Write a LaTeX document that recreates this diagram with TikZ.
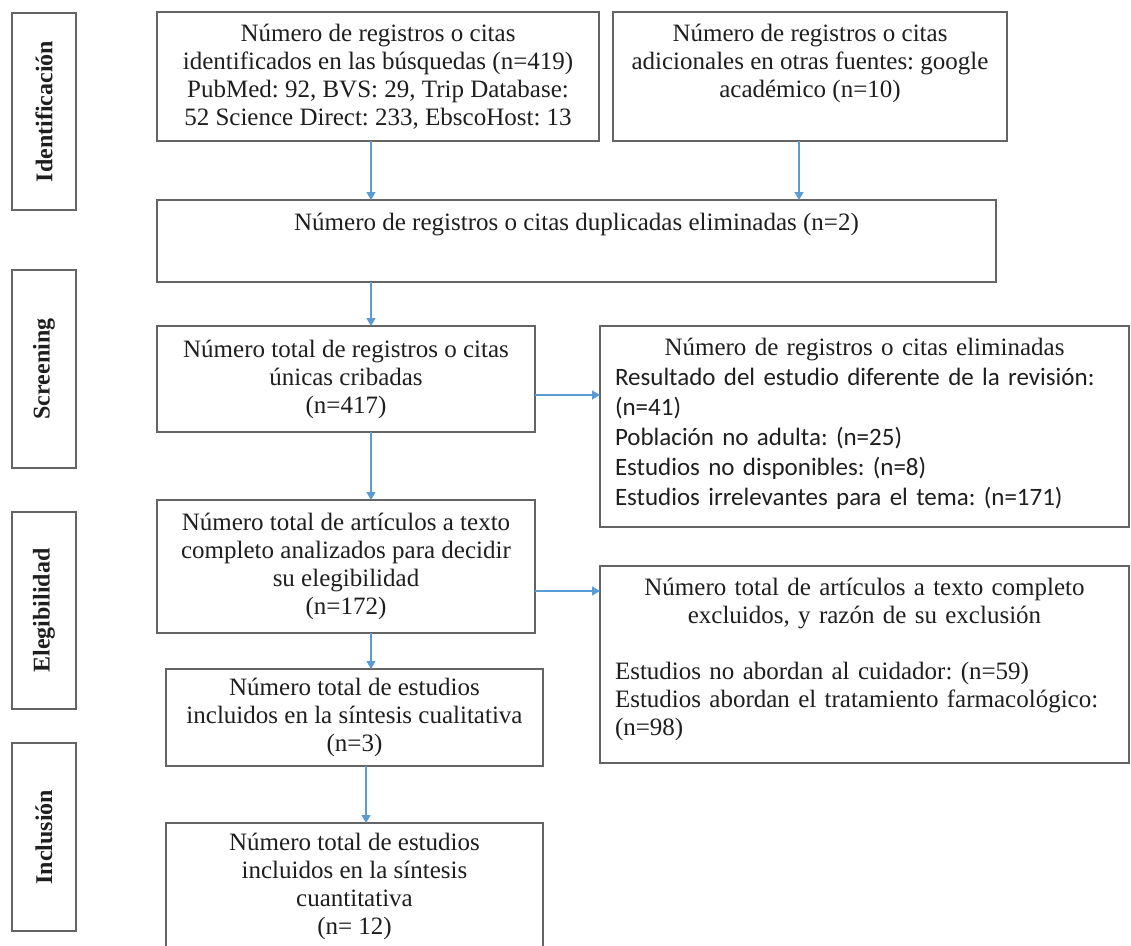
\documentclass[tikz,border=0pt]{standalone}
\usepackage{fontspec}
\setmainfont{Liberation Serif}
\newfontfamily\calibrifont{Carlito}
\usetikzlibrary{arrows.meta,positioning}
\frenchspacing

\definecolor{boxgray}{RGB}{100,100,100}
\definecolor{flowblue}{RGB}{91,155,213}
\definecolor{inkgray}{RGB}{30,30,30}

\begin{document}
\begin{tikzpicture}[x=1pt,y=-1pt]

    % Set the canvas size
    \useasboundingbox (0,0) rectangle (1131,945);

    % Define styles
    \tikzset{
        box/.style={draw=boxgray, line width=1.3pt, anchor=north west, inner sep=0pt, outer sep=0pt,
                    text=inkgray, align=center, font=\fontsize{25}{28}\selectfont},
        stage/.style={box, font=\bfseries\fontsize{24}{26}\selectfont},
        txt/.style={inner sep=0pt, text=inkgray, font=\fontsize{25}{28}\selectfont},
        flow/.style={-{Triangle[width=9pt,length=8pt]}, flowblue, line width=1.2pt},
    }

    % Stage boxes on the left
    \node[stage, minimum width=64pt, minimum height=197pt] (ident) at (12,13) {\rotatebox{90}{Identificación}};
    \node[stage, minimum width=64pt, minimum height=198pt] (screen) at (12,270) {\rotatebox{90}{Screening}};
    \node[stage, minimum width=64pt, minimum height=197pt] (eligible) at (12,512) {\rotatebox{90}{Elegibilidad}};
    \node[stage, minimum width=64pt, minimum height=188pt] (include) at (12,743) {\rotatebox{90}{Inclusión}};

    % Identification
    \node[box, minimum width=442pt, minimum height=129pt] (srcA) at (157,12)
        {Número de registros o citas\\ identificados en las búsquedas (n=419)\\
         PubMed: 92, BVS: 29, Trip Database:\\ 52 Science Direct: 233, EbscoHost: 13};
    \node[box, minimum width=394pt, minimum height=129pt] (srcB) at (613,12) {};
    \node[txt, align=center, below=12pt of srcB.north] (srcBtext)
        {Número de registros o citas\\ adicionales en otras fuentes: google\\ académico (n=10)};
    \node[box, minimum width=839pt, minimum height=82pt] (dup) at (157,200) {};
    \node[txt, below=13pt of dup.north] (duptext)
        {Número de registros o citas duplicadas eliminadas (n=2)};

    % Screening
    \node[box, minimum width=378pt, minimum height=106pt] (scr) at (157,326)
        {Número total de registros o citas\\ únicas cribadas\\ (n=417)};
    \node[box, minimum width=529pt, minimum height=201pt] (elim) at (600,326) {};
    \node[txt, text width=499pt, align=left, below=12pt of elim.north] (elimtext)
        {{\centering Número de registros o citas eliminadas\par}
         {\calibrifont\fontsize{25}{30}\selectfont Resultado del estudio diferente de la revisión:\\
          (n=41)\\ Población no adulta: (n=25)\\ Estudios no disponibles: (n=8)\\
          Estudios irrelevantes para el tema: (n=171)\par}};

    % Eligibility
    \node[box, minimum width=378pt, minimum height=133pt] (elig) at (157,500)
        {Número total de artículos a texto\\ completo analizados para decidir\\ su elegibilidad\\ (n=172)};
    \node[box, minimum width=529pt, minimum height=197pt] (excl) at (600,566) {};
    \node[txt, text width=499pt, align=left, below=12pt of excl.north] (excltext)
        {{\centering Número total de artículos a texto completo\\ excluidos, y razón de su exclusión\par}
         \vskip 28pt
         Estudios no abordan al cuidador: (n=59)\\ Estudios abordan el tratamiento farmacológico:\\ (n=98)\par};

    % Inclusion
    \node[box, minimum width=377pt, minimum height=97pt] (qual) at (166,669)
        {Número total de estudios\\ incluidos en la síntesis cualitativa\\ (n=3)};
    \node[box, minimum width=377pt, minimum height=127pt] (quant) at (166,823)
        {Número total de estudios\\ incluidos en la síntesis\\ cuantitativa\\ (n= 12)};

    % Connectors
    \coordinate (spine) at (371,0);
    \coordinate (spineB) at (799,0);
    \draw[flow] (srcA.south -| spine) -- (dup.north -| spine);
    \draw[flow] (srcB.south -| spineB) -- (dup.north -| spineB);
    \draw[flow] (dup.south -| spine) -- (scr.north -| spine);
    \draw[flow] (scr.south -| spine) -- (elig.north -| spine);
    \draw[flow] (elig.south -| spine) -- (qual.north -| spine);
    \draw[flow] ([xshift=-5pt]qual.south -| spine) -- ([xshift=-5pt]quant.north -| spine);
    \draw[flow] ([yshift=-16pt]scr.east) -- ([yshift=-16pt]scr.east -| elim.west);
    \draw[flow] ([yshift=-24.5pt]elig.east) -- ([yshift=-24.5pt]elig.east -| excl.west);

\end{tikzpicture}
\end{document}
